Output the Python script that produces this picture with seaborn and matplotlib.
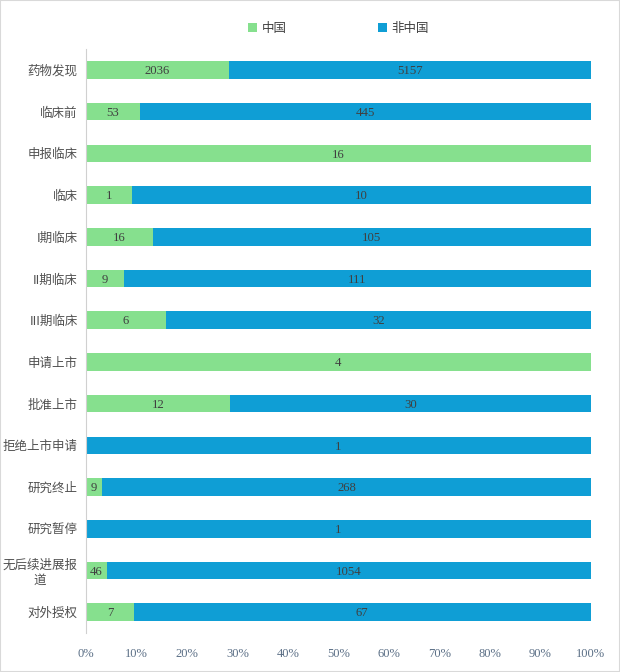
import numpy as np
import pandas as pd
import seaborn as sns
import matplotlib.pyplot as plt
from matplotlib.ticker import FixedLocator, PercentFormatter

stages = ["药物发现", "临床前", "申报临床", "临床", "I期临床", "II期临床", "III期临床",
          "申请上市", "批准上市", "拒绝上市申请", "研究终止", "研究暂停",
          "无后续进展报\n道", "对外授权"]
china = [2036, 53, 16, 1, 16, 9, 6, 4, 12, 0, 9, 0, 46, 7]
non_china = [5157, 445, 0, 10, 105, 111, 32, 0, 30, 1, 268, 1, 1054, 67]

green = "#86E08E"
blue = "#0F9ED5"

df = pd.DataFrame({"stage": stages, "china": china, "non_china": non_china})
df["total"] = df["china"] + df["non_china"]
df["china_pct"] = df["china"] / df["total"] * 100
df["all_pct"] = 100.0

sns.set_style("white")
plt.rcParams["font.family"] = ["Noto Sans CJK SC", "DejaVu Sans"]

fig = plt.figure(figsize=(6.2, 6.72), dpi=100)
ax = fig.add_axes([0.1387, 0.058, 0.953 - 0.1387, 0.869])

sns.barplot(data=df, x="all_pct", y="stage", color=blue, width=0.42,
            saturation=1, linewidth=0, ax=ax, label="非中国")
sns.barplot(data=df, x="china_pct", y="stage", color=green, width=0.42,
            saturation=1, linewidth=0, ax=ax, label="中国")

num_font = dict(family=["Liberation Serif", "DejaVu Serif"], fontsize=9.2, color="#404040")
for i, row in df.iterrows():
    if row["china"] > 0:
        ax.text(row["china_pct"] / 2, i + 0.03, str(row["china"]), ha="center", va="center", **num_font)
    if row["non_china"] > 0:
        ax.text(row["china_pct"] + (100 - row["china_pct"]) / 2, i + 0.03, str(row["non_china"]),
                ha="center", va="center", **num_font)

ax.set_xlim(0, 100)
ax.set_ylim(len(stages) - 0.5, -0.5)
ax.set_xticks(np.arange(0, 101, 10))
ax.xaxis.set_major_formatter(PercentFormatter(decimals=0))
for lab in ax.get_xticklabels():
    lab.set_family(["Liberation Serif", "DejaVu Serif"])
    lab.set_fontsize(9)
    lab.set_color("#5b6f86")
ax.tick_params(axis="x", length=0, pad=11)

ax.tick_params(axis="y", which="major", length=0, pad=6, labelsize=9, labelcolor="#505050")
ax.yaxis.set_minor_locator(FixedLocator(np.arange(-0.5, len(stages), 1.0)))
ax.tick_params(axis="y", which="minor", length=5, color="#d0d0d0", width=1)
for lab in ax.get_yticklabels():
    lab.set_multialignment("center")

ax.set_xlabel("")
ax.set_ylabel("")
for s in ["top", "right", "bottom"]:
    ax.spines[s].set_visible(False)
ax.spines["left"].set_color("#d0d0d0")

handles, labels = ax.get_legend_handles_labels()
order = [labels.index("中国"), labels.index("非中国")]
ax.legend([handles[k] for k in order], [labels[k] for k in order],
          loc="center", bbox_to_anchor=(0.5, 1.035), ncol=2, frameon=False,
          fontsize=9, handlelength=0.7, handleheight=0.7, columnspacing=7.3,
          handletextpad=0.4, labelcolor="#404040")

fig.patches.append(plt.Rectangle((0, 0), 1, 1, transform=fig.transFigure,
                                 fill=False, edgecolor="#d9d9d9", linewidth=1.5))
fig.savefig("out.png", dpi=100)
